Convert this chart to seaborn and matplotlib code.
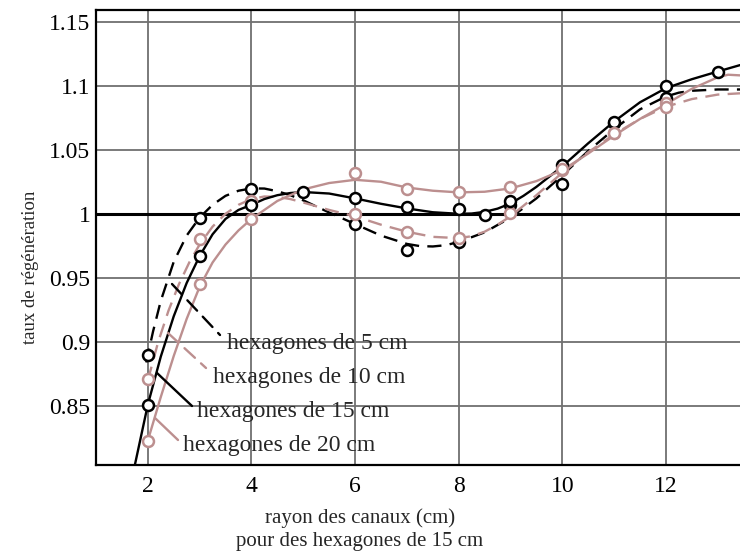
import numpy as np
import matplotlib
matplotlib.use("Agg")
import matplotlib.pyplot as plt
import seaborn as sns
from matplotlib.ticker import MultipleLocator, FuncFormatter

# points mesurés (cercles)
x5 = [2, 3, 4, 6, 7, 8, 9, 10, 11, 12]
y5 = [0.890, 0.997, 1.019, 0.992, 0.972, 0.978, 1.007, 1.023, 1.071, 1.090]

x10 = [2, 3, 4, 6, 7, 8, 9, 10, 11, 12]
y10 = [0.871, 0.980, 1.010, 1.000, 0.986, 0.981, 1.001, 1.034, 1.063, 1.0865]

x15 = [2, 3, 4, 5, 6, 7, 8, 8.5, 9, 10, 11, 12, 13]
y15 = [0.851, 0.967, 1.007, 1.017, 1.012, 1.005, 1.004, 0.999, 1.010, 1.038, 1.072, 1.0995, 1.111]

x20 = [2, 3, 4, 6, 7, 8, 9, 10, 11, 12]
y20 = [0.823, 0.945, 0.996, 1.032, 1.019, 1.017, 1.021, 1.035, 1.063, 1.083]

# courbes lissées
cx5 = [1.97, 2.1, 2.25, 2.5, 2.75, 3.0, 3.25, 3.5, 3.75, 4.0, 4.25, 4.5, 4.75, 5.0, 5.5, 6.0, 6.5,
       7.0, 7.25, 7.5, 7.75, 8.0, 8.5, 9.0, 9.5, 10.0, 10.5, 11.0, 11.5, 12.0, 12.25, 12.5, 13.0, 13.43]
cy5 = [0.884, 0.908, 0.932, 0.9625, 0.983, 0.997, 1.007, 1.014, 1.018, 1.0198, 1.0197, 1.0176, 1.0145,
       1.0105, 1.001, 0.992, 0.983, 0.9765, 0.9748, 0.9745, 0.9755, 0.978, 0.9855, 0.997, 1.012, 1.030,
       1.049, 1.066, 1.0815, 1.0915, 1.0945, 1.096, 1.097, 1.097]

cx10 = [2.0, 2.2, 2.4, 2.6, 2.8, 3.0, 3.25, 3.5, 3.75, 4.0, 4.25, 4.5, 4.75, 5.0, 5.5, 6.0, 6.5, 7.0,
        7.5, 8.0, 8.25, 8.5, 8.75, 9.0, 9.5, 10.0, 10.5, 11.0, 11.5, 12.0, 12.5, 13.0, 13.43]
cy10 = [0.870, 0.900, 0.9245, 0.945, 0.962, 0.976, 0.990, 1.000, 1.007, 1.0115, 1.0135, 1.0132, 1.0115,
        1.0088, 1.003, 0.998, 0.9915, 0.986, 0.982, 0.981, 0.9825, 0.986, 0.9915, 0.998, 1.0145, 1.032,
        1.048, 1.062, 1.074, 1.0835, 1.0895, 1.093, 1.094]

cx15 = [1.75, 2.0, 2.25, 2.5, 2.75, 3.0, 3.25, 3.5, 3.75, 4.0, 4.25, 4.5, 4.75, 5.0, 5.5, 6.0, 6.5,
        7.0, 7.5, 8.0, 8.25, 8.5, 8.75, 9.0, 9.25, 9.5, 9.75, 10.0, 10.5, 11.0, 11.5, 12.0, 12.5,
        13.0, 13.43]
cy15 = [0.804, 0.851, 0.8885, 0.920, 0.946, 0.967, 0.984, 0.996, 1.003, 1.007, 1.0115, 1.0145, 1.0162,
        1.017, 1.0158, 1.012, 1.0078, 1.0042, 1.0012, 1.000, 1.0002, 1.0015, 1.004, 1.008, 1.014, 1.021,
        1.029, 1.037, 1.055, 1.072, 1.087, 1.098, 1.105, 1.111, 1.116]

cx20 = [2.0, 2.25, 2.5, 2.75, 3.0, 3.25, 3.5, 3.75, 4.0, 4.5, 5.0, 5.5, 6.0, 6.5, 7.0, 7.5, 8.0, 8.5,
        9.0, 9.5, 10.0, 10.5, 11.0, 11.5, 12.0, 12.5, 13.0, 13.2, 13.43]
cy20 = [0.823, 0.857, 0.889, 0.918, 0.943, 0.962, 0.976, 0.987, 0.996, 1.010, 1.019, 1.024, 1.0265,
        1.025, 1.0205, 1.018, 1.0167, 1.0172, 1.0198, 1.0255, 1.034, 1.047, 1.061, 1.074, 1.0855,
        1.0975, 1.1065, 1.1085, 1.108]

labels = ["hexagones de 5 cm", "hexagones de 10 cm", "hexagones de 15 cm", "hexagones de 20 cm"]

noir = "black"
rose = "#bc8f8f"

sns.set_style("white")
plt.rcParams['font.family'] = ['Liberation Serif', 'DejaVu Serif']

fig = plt.figure(figsize=(7.4, 5.55), dpi=100)
ax = fig.add_axes([96/740, 90/555, 1 - 96/740, 455/555])

series = [
    (x5, y5, cx5, cy5, noir, True),
    (x10, y10, cx10, cy10, rose, True),
    (x15, y15, cx15, cy15, noir, False),
    (x20, y20, cx20, cy20, rose, False),
]

for xs, ys, cx, cy, col, tiret in series:
    kw = dict(dashes=(6, 3.5)) if tiret else {}
    sns.lineplot(x=cx, y=cy, color=col, lw=1.7, ax=ax, zorder=3, sort=False, **kw)

for xs, ys, cx, cy, col, tiret in series:
    sns.scatterplot(x=xs, y=ys, ax=ax, marker="o", s=62, facecolor="white",
                    edgecolor=col, linewidth=1.8, zorder=4)

ax.axhline(1.0, color="black", lw=2.2, zorder=2)

ax.set_xlim(1.0, 13.43)
ax.set_ylim(0.804, 1.159)
ax.xaxis.set_major_locator(MultipleLocator(2))
ax.xaxis.set_minor_locator(MultipleLocator(1))
ax.yaxis.set_major_locator(MultipleLocator(0.05))
ax.yaxis.set_minor_locator(MultipleLocator(0.01))
ax.yaxis.set_major_formatter(FuncFormatter(lambda v, p: f"{v:g}"))
ax.grid(True, which="major", color="#707070", lw=1.3, zorder=1)
ax.tick_params(which="both", direction="in", labelsize=17, colors="black")
ax.tick_params(which="major", length=10, width=1.3)
ax.tick_params(axis="x", which="major", pad=8)
ax.tick_params(axis="y", which="major", pad=4)
ax.tick_params(which="minor", length=5, width=1.0)
plt.setp(ax.get_xticklabels() + ax.get_yticklabels(), family="Liberation Serif")
for s in ["left", "bottom", "top"]:
    ax.spines[s].set_color("black")
    ax.spines[s].set_linewidth(1.6)
ax.spines["right"].set_visible(False)

ax.set_ylabel("taux de régénération", fontsize=13.5)
ax.yaxis.set_label_coords(-0.089, 0.434)
ax.set_xlabel("rayon des canaux (cm)\npour des hexagones de 15 cm", fontsize=15, linespacing=1.3)
ax.xaxis.set_label_coords(0.41, -0.095)

# étiquettes et traits de rappel (pixels depuis le haut)
pos_txt = [(227, 343), (213, 378), (197, 412), (183, 446)]
traits = [((172, 284), (220, 335)), ((168, 333), (206, 368)),
          ((157, 373), (192, 406)), ((155, 418), (178, 440))]
styles = [(noir, (0, (6, 3.5))), (rose, (0, (6, 3.5))), (noir, "-"), (rose, "-")]
for lab, (tx, ty), (p0, p1), (col, ls) in zip(labels, pos_txt, traits, styles):
    a = (p0[0], 555 - p0[1])
    b = (p1[0], 555 - p1[1])
    ax.annotate("", xy=b, xytext=a, xycoords="figure pixels", textcoords="figure pixels",
                arrowprops=dict(arrowstyle="-", color=col, lw=1.7, linestyle=ls, shrinkA=0, shrinkB=0))
    fig.text(tx / 740, 1 - ty / 555, lab, fontsize=17, va="center", ha="left", zorder=5)

fig.savefig("out.png", dpi=100)
